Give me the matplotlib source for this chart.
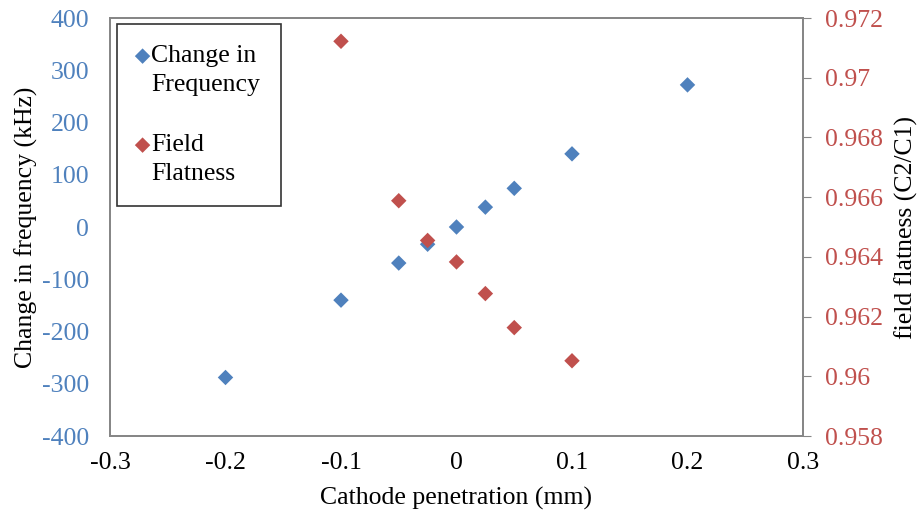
import numpy as np
import matplotlib
matplotlib.use("Agg")
from matplotlib import pyplot as plt
from matplotlib.legend_handler import HandlerPathCollection

plt.rcParams['font.family'] = ['Liberation Serif', 'DejaVu Serif']

# cathode penetration (mm) and measured values
penFreq = [-0.2, -0.1, -0.05, -0.025, 0, 0.025, 0.05, 0.1, 0.2]
dFreq = [-288, -140, -69, -33, 0, 38, 74, 140, 272]

penFlat = [-0.1, -0.05, -0.025, 0, 0.025, 0.05, 0.1]
flatness = [0.97122, 0.96588, 0.96455, 0.96383, 0.96277, 0.96163, 0.96052]

xTicks = [-0.3, -0.2, -0.1, 0, 0.1, 0.2, 0.3]
xLabels = ['-0.3', '-0.2', '-0.1', '0', '0.1', '0.2', '0.3']
yTicks = [-400, -300, -200, -100, 0, 100, 200, 300, 400]
yLabels = ['-400', '-300', '-200', '-100', '0', '100', '200', '300', '400']
y2Ticks = [0.958, 0.96, 0.962, 0.964, 0.966, 0.968, 0.97, 0.972]
y2Labels = ['0.958', '0.96', '0.962', '0.964', '0.966', '0.968', '0.97', '0.972']

blue = '#4F81BD'
red = '#C0504D'
grey = '#868686'
fs = 18.5
lineSp = 1.38


class FirstLineHandler(HandlerPathCollection):
    # put the marker beside the first line of a two line label
    def get_ydata(self, legend, xdescent, ydescent, width, height, fontsize):
        y = super().get_ydata(legend, xdescent, ydescent, width, height, fontsize)
        return y + 0.62 * fontsize


fig = plt.figure(figsize=(9.17, 5.11), dpi=100)
ax = fig.add_axes([110/917, 75/511, 693/917, 418/511])
ax2 = ax.twinx()

h1 = ax.scatter(penFreq, dFreq, marker='D', s=62, color=blue, edgecolors='none',
                label='Change in\nFrequency', zorder=3)
h2 = ax2.scatter(penFlat, flatness, marker='D', s=62, color=red, edgecolors='none',
                 label='Field\nFlatness', zorder=3)

ax.set_xlim(-0.3, 0.3)
ax.set_ylim(-400, 400)
ax2.set_ylim(0.958, 0.972)
ax.set_xticks(xTicks)
ax.set_xticklabels(xLabels)
ax.set_yticks(yTicks)
ax.set_yticklabels(yLabels)
ax2.set_yticks(y2Ticks)
ax2.set_yticklabels(y2Labels)

ax.tick_params(axis='x', length=0, labelsize=fs, pad=11.5)
ax.tick_params(axis='y', length=0, labelsize=fs, pad=15, labelcolor=blue)
ax2.tick_params(axis='y', length=6, color=grey, labelsize=fs, labelcolor=red,
                direction='out', pad=10)

for a in (ax, ax2):
    for s in a.spines.values():
        s.set_color(grey)
        s.set_linewidth(1.3)

ax.set_xlabel('Cathode penetration (mm)', fontsize=fs, labelpad=9)
ax.set_ylabel('Change in frequency (kHz)', fontsize=fs, labelpad=3)
ax2.set_ylabel('field flatness (C2/C1)', fontsize=fs, labelpad=8.5)

hm = FirstLineHandler()
leg = ax.legend(handles=[h1, h2], loc='upper left', bbox_to_anchor=(7/693, 1 - 6/418),
                fontsize=fs, frameon=True, fancybox=False, edgecolor='black',
                borderpad=0.82, labelspacing=1.5, handletextpad=0.15, handlelength=0.35,
                borderaxespad=0, handler_map={h1: hm, h2: hm})
for t in leg.get_texts():
    t.set_linespacing(lineSp)
leg.get_frame().set_linewidth(1.2)
leg.set_zorder(5)

plt.savefig('out.png', dpi=100)
